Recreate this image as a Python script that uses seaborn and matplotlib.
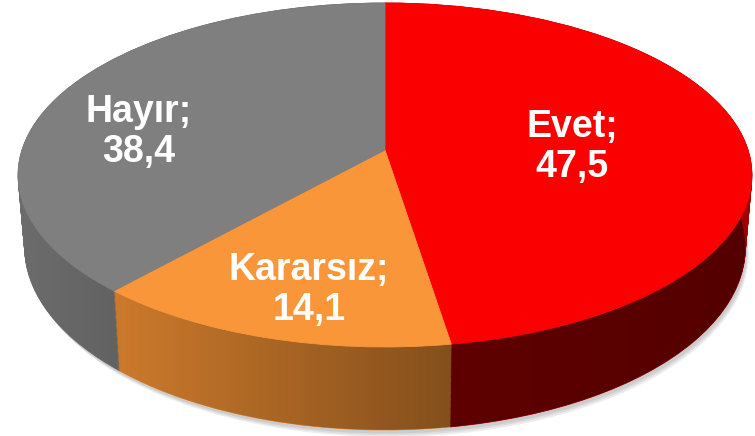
import numpy as np
import matplotlib
matplotlib.use("Agg")
import matplotlib.pyplot as plt
import seaborn as sns
from matplotlib.patches import Polygon
from matplotlib.transforms import Transform

sns.set_theme(style="white")
plt.rcParams["font.family"] = ["Liberation Sans", "DejaVu Sans"]

# ---- data ----
categories = ["Evet", "Kararsız", "Hayır"]
values = [47.5, 14.1, 38.4]
top_colors = ["#fa0000", "#f9963a", "#7f7f7f"]
side_colors = ["#a20000", "#e08630", "#6c6c6c"]

# ---- geometry (pixels, origin top-left) ----
W, H = 755, 436
CX = 385          # horizontal centre
CY = 150          # projected centre of the disc
A = 363           # horizontal radius
Q = 146.56        # depth scale
R = 0.1453        # perspective strength
HZ = 70.9         # thickness (before perspective)
SHRINK = 0.018    # vertical convergence of the side


class Persp(Transform):
    """Maps unit-circle pie coordinates to perspective pixel coordinates."""
    input_dims = 2
    output_dims = 2

    def __init__(self, dz=0.0, dx=0.0):
        super().__init__()
        self.dz = dz
        self.dx = dx

    def transform_non_affine(self, pts):
        pts = np.asarray(pts, dtype=float)
        u, v = pts[:, 0], pts[:, 1]
        den = 1.0 + R * v
        x = CX + self.dx + A * u / den * (1 - SHRINK * self.dz / HZ)
        y = (CY - Q * v + self.dz) / den
        return np.column_stack([x, y])


def face_edges(wedges, lw=0.6):
    for w in wedges:
        w.set_edgecolor(w.get_facecolor())
        w.set_linewidth(lw)


fig = plt.figure(figsize=(W / 100, H / 100), dpi=100)
ax = fig.add_axes([0, 0, 1, 1])

# soft shadow
for k in range(3):
    ax.pie(values, colors=["#000000"] * len(values), startangle=90, counterclock=False,
           radius=1,
           wedgeprops=dict(linewidth=0, zorder=0, alpha=0.07,
                           transform=Persp(dz=HZ + 3 + 1.5 * k, dx=2 + k) + ax.transData))

# side extrusion: stacked layers
N = 70
for k in range(N, -1, -1):
    dz = HZ * k / N
    wedges, _ = ax.pie(values, colors=side_colors, startangle=90, counterclock=False,
                       radius=1,
                       wedgeprops=dict(zorder=1, transform=Persp(dz=dz) + ax.transData))
    face_edges(wedges)

# horizontal shading on the side
xs_px = np.linspace(0, W, 400)
alpha = np.interp(xs_px, [18, 460, 752], [0.0, 0.42, 0.48])
grad = np.zeros((1, len(xs_px), 4))
grad[0, :, 3] = alpha
im = ax.imshow(grad, extent=(0, W, H, 0), aspect="auto",
               interpolation="bilinear", zorder=2)
t = np.linspace(0, np.pi, 200)
back = Persp(0).transform_non_affine(np.column_stack([np.cos(t), np.sin(t)]))
front = Persp(HZ).transform_non_affine(np.column_stack([np.cos(t + np.pi), np.sin(t + np.pi)]))
capsule = Polygon(np.vstack([back, front]), closed=True, transform=ax.transData)
im.set_clip_path(capsule)

# top face
wedges, _ = ax.pie(values, colors=top_colors, startangle=90, counterclock=False,
                   radius=1,
                   wedgeprops=dict(zorder=3, transform=Persp(0) + ax.transData))
face_edges(wedges)

# labels (pixel positions)
label_pos_px = [(572, 147), (309, 290), (139, 132)]
for cat, val, (px, py) in zip(categories, values, label_pos_px):
    txt = f"{cat};\n{val:.1f}".replace(".", ",")
    ax.text(px, py, txt, ha="center", va="center",
            color="white", fontsize=27, fontweight="bold", linespacing=1.15,
            zorder=5)

ax.set_aspect("auto")
ax.set_xlim(0, W)
ax.set_ylim(H, 0)
ax.axis("off")

fig.savefig("out.png", dpi=100, facecolor="white")
